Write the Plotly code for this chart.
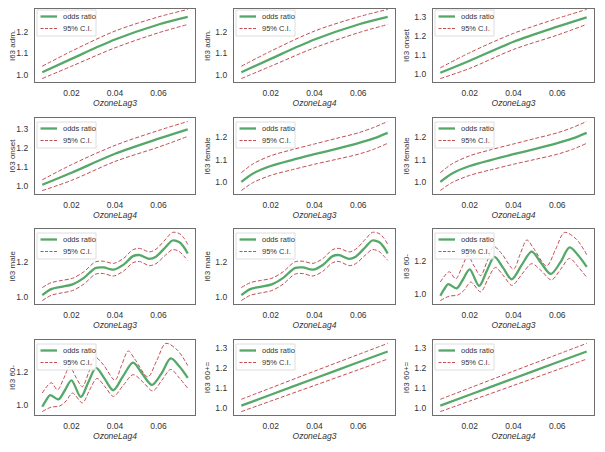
import plotly.graph_objects as go

# ---------------- data ----------------
x_lin = [0.0066, 0.02, 0.04, 0.06, 0.0734]

adm_or = [1.011, 1.074, 1.165, 1.236, 1.272]
adm_hi = [1.039, 1.110, 1.205, 1.272, 1.307]
adm_lo = [0.981, 1.039, 1.126, 1.197, 1.236]

onset_or = [1.007, 1.070, 1.169, 1.248, 1.297]
onset_hi = [1.033, 1.112, 1.213, 1.291, 1.338]
onset_lo = [0.977, 1.030, 1.129, 1.204, 1.260]

x_female = [0.0066, 0.012, 0.02, 0.03, 0.04, 0.05, 0.06, 0.067, 0.0734]
female_or = [1.000, 1.038, 1.071, 1.099, 1.124, 1.148, 1.174, 1.195, 1.220]
female_hi = [1.041, 1.081, 1.117, 1.145, 1.170, 1.195, 1.220, 1.244, 1.271]
female_lo = [0.961, 0.997, 1.029, 1.055, 1.079, 1.101, 1.124, 1.146, 1.173]

old_or = [1.010, 1.065, 1.147, 1.229, 1.283]
old_hi = [1.042, 1.099, 1.184, 1.268, 1.324]
old_lo = [0.980, 1.033, 1.112, 1.191, 1.245]

x_male = [0.0066, 0.0107, 0.0152, 0.0205, 0.0257, 0.0310, 0.0347, 0.0393, 0.0438,
          0.0483, 0.0513, 0.0558, 0.0588, 0.0633, 0.0664, 0.0694, 0.0716, 0.0734]
male_or = [1.009, 1.043, 1.056, 1.070, 1.107, 1.163, 1.167, 1.154, 1.181,
           1.231, 1.237, 1.215, 1.228, 1.283, 1.320, 1.311, 1.283, 1.246]
male_hi = [1.052, 1.080, 1.092, 1.105, 1.142, 1.198, 1.202, 1.190, 1.217,
           1.268, 1.275, 1.255, 1.270, 1.328, 1.366, 1.360, 1.335, 1.298]
male_lo = [0.978, 1.008, 1.021, 1.035, 1.072, 1.128, 1.132, 1.118, 1.145,
           1.194, 1.200, 1.177, 1.188, 1.238, 1.268, 1.258, 1.232, 1.207]

x_young_or = [0.0066, 0.0084, 0.0102, 0.0140, 0.0170, 0.0200, 0.0243, 0.0278, 0.0313,
              0.0352, 0.0392, 0.0437, 0.0483, 0.0525, 0.0570, 0.0613, 0.0656, 0.0695, 0.0734]
young_or = [0.990, 1.030, 1.060, 1.035, 1.090, 1.150, 1.050, 1.140, 1.225,
            1.160, 1.090, 1.175, 1.257, 1.190, 1.122, 1.190, 1.282, 1.235, 1.165]

x_young_hi = [0.0066, 0.0107, 0.0136, 0.0164, 0.0192, 0.0220, 0.0250, 0.0280, 0.0310,
              0.0347, 0.0400, 0.0430, 0.0461, 0.0491, 0.0551, 0.0592, 0.0633, 0.0686, 0.0734]
young_hi = [1.073, 1.135, 1.092, 1.160, 1.233, 1.170, 1.112, 1.200, 1.288,
            1.243, 1.151, 1.240, 1.327, 1.278, 1.171, 1.270, 1.373, 1.333, 1.239]

x_young_lo = [0.0066, 0.0107, 0.0145, 0.0175, 0.0205, 0.0250, 0.0283, 0.0317, 0.0355,
              0.0393, 0.0438, 0.0483, 0.0528, 0.0573, 0.0615, 0.0656, 0.0695, 0.0734]
young_lo = [0.961, 0.988, 0.994, 1.024, 1.073, 1.014, 1.090, 1.161, 1.110,
            1.053, 1.120, 1.184, 1.140, 1.086, 1.150, 1.216, 1.165, 1.102]

x_ticks = [0.02, 0.04, 0.06]
legend_labels = ["odds ratio", "95% C.I."]

panels = [
    # (xtitle, ytitle, x_or, or, x_hi, hi, x_lo, lo, dtick)
    ("OzoneLag3", "I63 adm.", x_lin, adm_or, x_lin, adm_hi, x_lin, adm_lo, 0.1),
    ("OzoneLag4", "I63 adm.", x_lin, adm_or, x_lin, adm_hi, x_lin, adm_lo, 0.1),
    ("OzoneLag3", "I63 onset", x_lin, onset_or, x_lin, onset_hi, x_lin, onset_lo, 0.1),
    ("OzoneLag4", "I63 onset", x_lin, onset_or, x_lin, onset_hi, x_lin, onset_lo, 0.1),
    ("OzoneLag3", "I63 female", x_female, female_or, x_female, female_hi, x_female, female_lo, 0.1),
    ("OzoneLag4", "I63 female", x_female, female_or, x_female, female_hi, x_female, female_lo, 0.1),
    ("OzoneLag3", "I63 male", x_male, male_or, x_male, male_hi, x_male, male_lo, 0.2),
    ("OzoneLag4", "I63 male", x_male, male_or, x_male, male_hi, x_male, male_lo, 0.2),
    ("OzoneLag3", "I63 60-", x_young_or, young_or, x_young_hi, young_hi, x_young_lo, young_lo, 0.2),
    ("OzoneLag4", "I63 60-", x_young_or, young_or, x_young_hi, young_hi, x_young_lo, young_lo, 0.2),
    ("OzoneLag3", "I63 60+=", x_lin, old_or, x_lin, old_hi, x_lin, old_lo, 0.1),
    ("OzoneLag4", "I63 60+=", x_lin, old_or, x_lin, old_hi, x_lin, old_lo, 0.1),
]

# ---------------- styling / layout ----------------
# the page body has an 8px default margin, so the figure is drawn 8px smaller
# and all pixel positions below are given relative to the figure's own corner
OFF = 8
W, H = 605 - OFF, 452 - OFF
GREEN = "#55A868"
RED = "#C44E52"
TEXT = "#333333"
FONT = "Liberation Sans, Arial, sans-serif"
DASH = "4px,2px"

col_px = [(35 - OFF, 195 - OFF), (234 - OFF, 395 - OFF), (433 - OFF, 594 - OFF)]
row_px = [(6 - OFF, 82 - OFF), (118 - OFF, 194 - OFF), (229 - OFF, 304 - OFF), (340 - OFF, 415 - OFF)]

fig = go.Figure()
layout = dict(
    width=W, height=H, margin=dict(l=0, r=0, t=0, b=0, pad=0, autoexpand=False),
    paper_bgcolor="white", plot_bgcolor="white", showlegend=False,
    font=dict(family=FONT, size=9, color=TEXT),
)
shapes, annotations = [], []

for i, (xt, yt, xo, yo, xh, yh, xl, yl, dt) in enumerate(panels):
    n = i + 1
    r, c = divmod(i, 3)
    sfx = "" if n == 1 else str(n)
    xa, ya = "x" + sfx, "y" + sfx

    fig.add_trace(go.Scatter(x=xo, y=yo, mode="lines", name=legend_labels[0],
                             line=dict(color=GREEN, width=2.3, shape="spline", smoothing=0.9),
                             xaxis=xa, yaxis=ya))
    fig.add_trace(go.Scatter(x=xh, y=yh, mode="lines", name=legend_labels[1],
                             line=dict(color=RED, width=1, dash=DASH, shape="spline", smoothing=0.9),
                             xaxis=xa, yaxis=ya))
    fig.add_trace(go.Scatter(x=xl, y=yl, mode="lines", name=legend_labels[1],
                             line=dict(color=RED, width=1, dash=DASH, shape="spline", smoothing=0.9),
                             xaxis=xa, yaxis=ya))

    allx = list(xo) + list(xh) + list(xl)
    ally = list(yo) + list(yh) + list(yl)
    xmn, xmx = min(allx), max(allx)
    ymn, ymx = min(ally), max(ally)
    xs, ys = xmx - xmn, ymx - ymn

    x0, x1 = col_px[c]
    y0, y1 = row_px[r]
    y0c = max(y0, 1)
    pw = x1 - x0
    axis_common = dict(showline=True, mirror=True, linecolor="#6e6e6e", linewidth=1.2,
                       showgrid=False, zeroline=False, ticks="",
                       tickfont=dict(family=FONT, size=8.5, color=TEXT))
    layout["xaxis" + sfx] = dict(
        axis_common, domain=[x0 / W, x1 / W], anchor=ya,
        range=[xmn - 0.05 * xs, xmx + 0.05 * xs],
        tickmode="array", tickvals=x_ticks, ticktext=["0.02", "0.04", "0.06"],
        ticklabelstandoff=3,
        title=dict(text="<i>" + xt + "</i>", font=dict(family=FONT, size=8.5, color=TEXT), standoff=2),
    )
    # the top row would start above the figure: shrink its domain and cut its
    # range so the data scale stays the same
    yr0, yr1 = ymn - 0.05 * ys, ymx + 0.05 * ys
    if y0c != y0:
        yr1 = yr0 + (yr1 - yr0) * (y1 - y0c) / (y1 - y0)
    layout["yaxis" + sfx] = dict(
        axis_common, domain=[1 - y1 / H, 1 - y0c / H], anchor=xa,
        range=[yr0, yr1],
        tick0=1.0, dtick=dt, tickformat=".1f",
        ticklabelstandoff=4,
        title=dict(text=yt, font=dict(family=FONT, size=8, color=TEXT), standoff=3),
    )

    # compact legend box (matplotlib style) in axis-domain coordinates
    ph_c = y1 - y0c
    top_shift = y0c - y0
    xr, yr = xa + " domain", ya + " domain"
    fx = lambda px: px / pw
    fy = lambda px: 1 - max(px - top_shift, 0.5) / ph_c
    shapes.append(dict(type="rect", xref=xr, yref=yr, x0=fx(2), x1=fx(61), y0=fy(4), y1=fy(30),
                       line=dict(color="#d6d6d6", width=0.8), fillcolor="rgba(255,255,255,0.8)",
                       layer="above"))
    shapes.append(dict(type="line", xref=xr, yref=yr, x0=fx(5.5), x1=fx(22), y0=fy(10.5), y1=fy(10.5),
                       line=dict(color=GREEN, width=2.3), layer="above"))
    shapes.append(dict(type="line", xref=xr, yref=yr, x0=fx(5.5), x1=fx(22), y0=fy(22.5), y1=fy(22.5),
                       line=dict(color=RED, width=1, dash="3px,1.5px"), layer="above"))
    for k, lab in enumerate(legend_labels):
        annotations.append(dict(xref=xr, yref=yr, x=fx(25.5), y=fy(10.5 + 12 * k), text=lab,
                                showarrow=False, xanchor="left", yanchor="middle",
                                font=dict(family=FONT, size=7.5, color=TEXT)))

layout["shapes"] = shapes
layout["annotations"] = annotations
fig.update_layout(**layout)
fig.write_html("out.html")
